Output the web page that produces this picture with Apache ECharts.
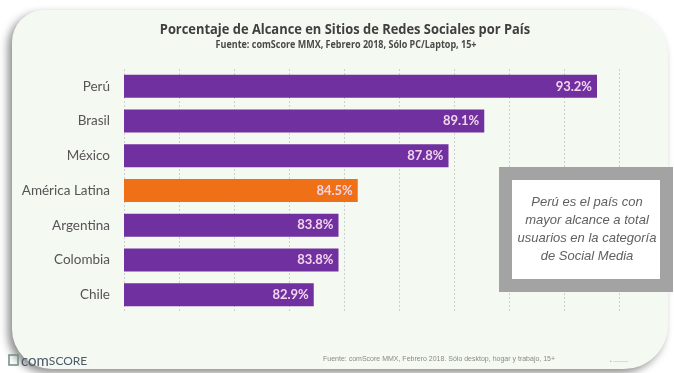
<!DOCTYPE html>
<html>
<head>
<meta charset="utf-8">
<script src="https://cdn.jsdelivr.net/npm/echarts@6/dist/echarts.min.js"></script>
<style>
  html, body { margin: 0; padding: 0; background: #ffffff; }
  #chart { width: 674px; height: 373px; }
</style>
</head>
<body>
<div id="chart"></div>
<script>
// Reach of social network sites by country (comScore MMX, Feb 2018)
var countries = ['Perú', 'Brasil', 'México', 'América Latina', 'Argentina', 'Colombia', 'Chile'];
var reach = [93.2, 89.1, 87.8, 84.5, 83.8, 83.8, 82.9];
var highlight = 'América Latina';

var titleText = 'Porcentaje de Alcance en Sitios de Redes Sociales por País';
var subtitleText = 'Fuente: comScore MMX, Febrero 2018, Sólo PC/Laptop, 15+';
var noteLines = ['Perú es el país con', 'mayor alcance a total', 'usuarios en la categoría', 'de Social Media'];
var footerSource = 'Fuente: comScore MMX, Febrero 2018. Sólo desktop, hogar y trabajo, 15+';

var PURPLE = '#7030a0';
var ORANGE = '#f07018';
var LABEL_FONT = 'Lato, "Open Sans", sans-serif';
var HEAD_FONT = '"Open Sans", sans-serif';

var chart = echarts.init(document.getElementById('chart'), null, { renderer: 'canvas' });

var barData = countries.map(function (c, i) {
  return {
    value: reach[i],
    itemStyle: { color: c === highlight ? ORANGE : PURPLE }
  };
});

chart.setOption({
  backgroundColor: '#ffffff',
  animation: false,
  grid: { left: 124, width: 550, top: 69, height: 243, containLabel: false },
  xAxis: {
    type: 'value', min: 76, max: 96, interval: 2,
    axisLine: { show: false }, axisTick: { show: false }, axisLabel: { show: false },
    splitLine: { show: true, lineStyle: { color: '#cfcfcf', width: 1, type: [2, 2] } }
  },
  yAxis: {
    type: 'category', data: countries, inverse: true,
    axisLine: { show: false }, axisTick: { show: false },
    axisLabel: { margin: 14, fontFamily: LABEL_FONT, fontSize: 13.5, color: '#555555' }
  },
  series: [{
    type: 'bar',
    data: barData,
    barWidth: 23,
    z: 3,
    label: {
      show: true, position: 'insideRight', distance: 5,
      formatter: function (p) { return p.value.toFixed(1) + '%'; },
      fontFamily: LABEL_FONT, fontSize: 13, fontWeight: 'bold', color: '#f1d6ec'
    }
  }],
  graphic: [
    // card behind the chart
    {
      type: 'rect', z: -10, silent: true,
      shape: { x: 12, y: 10, width: 656, height: 359, r: [32, 44, 44, 40] },
      style: {
        fill: '#f4f9f1',
        shadowBlur: 8, shadowOffsetX: -4, shadowOffsetY: 4, shadowColor: 'rgba(0,0,0,0.45)'
      }
    },
    // headline and source, drawn condensed
    {
      type: 'text', z: 5, silent: true,
      x: 345, y: 30, scaleX: 0.86,
      style: {
        text: titleText, align: 'center', verticalAlign: 'middle',
        font: 'bold 15px ' + HEAD_FONT, fill: '#3f3f3f'
      }
    },
    {
      type: 'text', z: 5, silent: true,
      x: 346, y: 45, scaleX: 0.9,
      style: {
        text: subtitleText, align: 'center', verticalAlign: 'middle',
        font: 'bold 10px ' + HEAD_FONT, fill: '#4a4a4a'
      }
    },
    // note box
    {
      type: 'rect', z: 20, silent: true,
      shape: { x: 505.5, y: 173.5, width: 161, height: 112 },
      style: { fill: '#ffffff', stroke: '#a3a3a3', lineWidth: 13 }
    },
    {
      type: 'text', z: 21, silent: true,
      x: 587, y: 193,
      style: {
        text: noteLines.join('\n'),
        align: 'center', verticalAlign: 'top',
        font: 'italic 13px "Liberation Sans", Arial, sans-serif',
        lineHeight: 18, fill: '#606060'
      }
    },
    // comScore logo
    {
      type: 'rect', z: 5, silent: true,
      shape: { x: 9, y: 355, width: 9, height: 10 },
      style: { fill: 'none', stroke: '#6f8f7f', lineWidth: 1.5 }
    },
    {
      type: 'text', z: 5, silent: true,
      x: 21, y: 361,
      style: {
        text: '{a|com}{b|SCORE}',
        verticalAlign: 'middle',
        rich: {
          a: { fontFamily: LABEL_FONT, fontSize: 15, fill: '#4b5968' },
          b: { fontFamily: LABEL_FONT, fontSize: 12, fill: '#4b5968' }
        }
      }
    },
    // footer source line
    {
      type: 'text', z: 5, silent: true,
      x: 323, y: 359,
      style: {
        text: footerSource, verticalAlign: 'middle',
        font: '7px "Liberation Sans", Arial, sans-serif', fill: '#8a8a8a'
      }
    },
    {
      type: 'text', z: 5, silent: true,
      x: 610, y: 362,
      style: {
        text: '▪ ———', verticalAlign: 'middle',
        font: '5px "Liberation Sans", Arial, sans-serif', fill: '#b0b0b0'
      }
    }
  ]
});
</script>
</body>
</html>
